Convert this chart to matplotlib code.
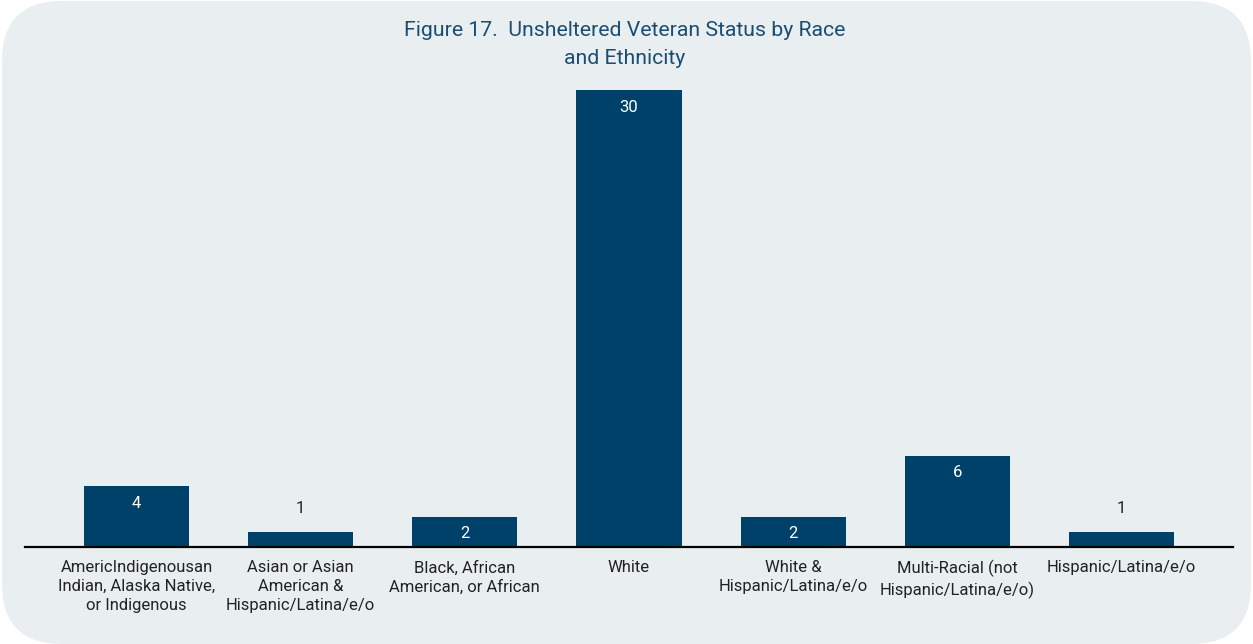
import matplotlib
matplotlib.use("Agg")
import matplotlib.pyplot as plt
from matplotlib.patches import FancyBboxPatch

plt.rcParams["font.family"] = ["Roboto", "DejaVu Sans"]

categories = [
    "AmericIndigenousan\nIndian, Alaska Native,\nor Indigenous",
    "Asian or Asian\nAmerican &\nHispanic/Latina/e/o",
    "Black, African\nAmerican, or African",
    "White",
    "White &\nHispanic/Latina/e/o",
    "Multi-Racial (not\nHispanic/Latina/e/o)",
    "Hispanic/Latina/e/o",
]
counts = [4, 1, 2, 30, 2, 6, 1]

title = "Figure 17.  Unsheltered Veteran Status by Race\nand Ethnicity"

BG = "#e9eff0"
BAR = "#00416a"
TITLE_COLOR = "#1b4d72"
TEXT = "#222222"

W, H = 1253, 644
fig = plt.figure(figsize=(W / 100, H / 100), dpi=100)
fig.patch.set_facecolor("white")

# rounded panel behind the chart
panel = FancyBboxPatch((0.02, 0.0), W / 100 - 0.04, H / 100 - 0.01,
                       boxstyle="round,pad=0,rounding_size=0.6",
                       transform=fig.dpi_scale_trans,
                       facecolor=BG, edgecolor="none", zorder=-10)
fig.patches.append(panel)

ymax = 31
px_per_unit = 457 / 30
ax_h = ymax * px_per_unit
left, right, base = 25, 1233, 547
ax = fig.add_axes([left / W, (H - base) / H, (right - left) / W, ax_h / H])
ax.set_facecolor("none")
ax.set_zorder(5)

x = list(range(len(categories)))
bars = ax.bar(x, counts, width=0.64, color=BAR, zorder=2)
ax.set_xlim(-0.68, len(categories) - 1 + 0.68)
ax.set_ylim(0, ymax)

for xi, v in zip(x, counts):
    if v >= 2:
        ax.annotate(str(v), (xi, v), xytext=(0, -17), textcoords="offset pixels",
                    ha="center", va="center", color="white", fontsize=12, zorder=3)
    else:
        ax.annotate(str(v), (xi, v), xytext=(0, 23), textcoords="offset pixels",
                    ha="center", va="center", color=TEXT, fontsize=12, zorder=3)

ax.set_xticks(x)
ax.set_xticklabels(categories, fontsize=12, color=TEXT, linespacing=1.32)
ax.tick_params(axis="x", length=0, pad=9.5)
ax.set_yticks([])
for s in ["top", "right", "left"]:
    ax.spines[s].set_visible(False)
ax.spines["bottom"].set_color("black")
ax.spines["bottom"].set_linewidth(1.6)

fig.text(625 / W, 1 - 45 / H, title, ha="center", va="center",
         fontsize=15.3, color=TITLE_COLOR, linespacing=1.6, zorder=6)

fig.savefig("out.png", dpi=100, facecolor=fig.get_facecolor())
